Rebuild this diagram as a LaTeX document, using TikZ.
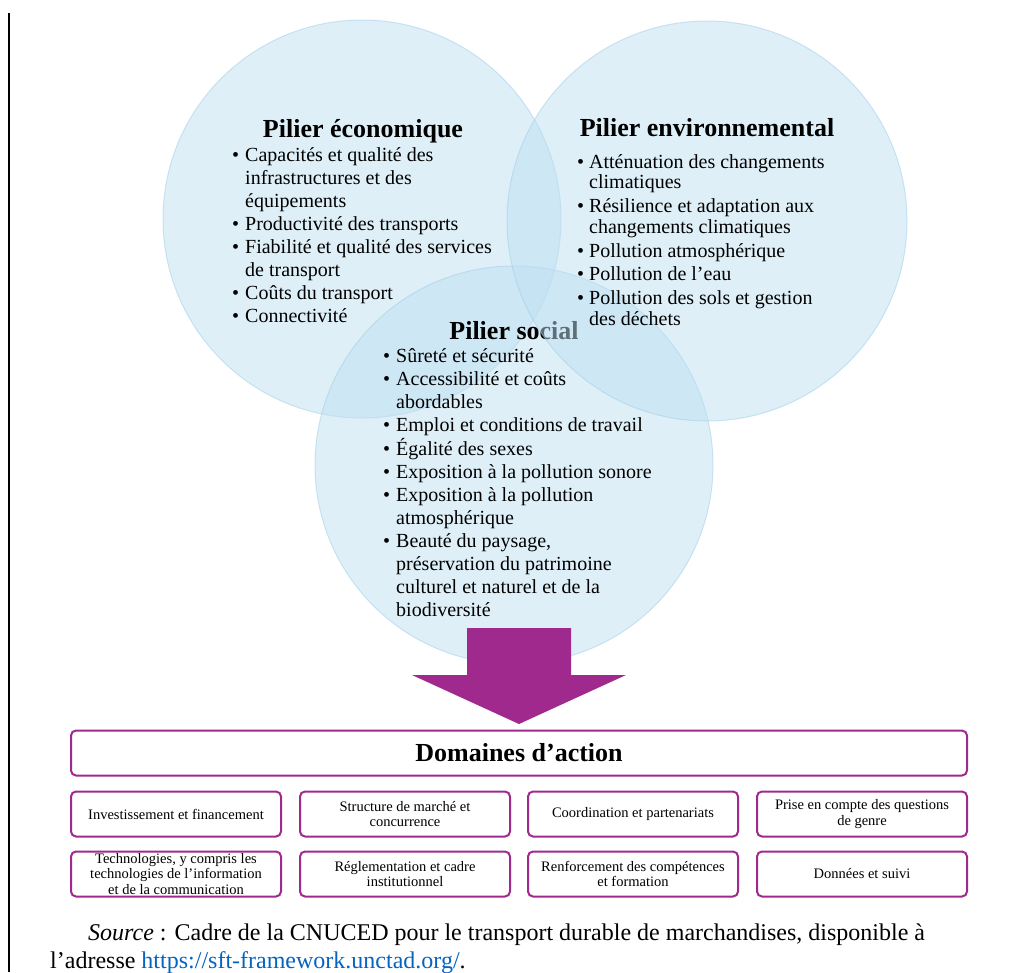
\documentclass[tikz,border=0pt]{standalone}
\usepackage{fontspec}
\setmainfont{Liberation Serif}
\usetikzlibrary{positioning}

\definecolor{pillarblue}{RGB}{189,223,241}
\definecolor{pillaredge}{RGB}{160,205,232}
\definecolor{actpurple}{RGB}{160,41,142}
\definecolor{linkblue}{RGB}{5,99,193}

\tikzset{
  pillar/.style={circle, minimum size=398pt, inner sep=0pt, fill=pillarblue,
    fill opacity=0.5, draw=pillaredge, draw opacity=0.5, line width=1pt},
  pillartitle/.style={font=\fontsize{26}{30}\selectfont\bfseries, anchor=base, inner sep=0pt},
  bullets/.style={font=\fontsize{20}{23}\selectfont, anchor=base west, inner sep=0pt, align=left},
  actbox/.style={draw=actpurple, line width=2pt, rounded corners=5pt, minimum width=210pt,
    minimum height=45pt, align=center, inner sep=1pt, font=\fontsize{14.5}{15.5}\selectfont},
}

\begin{document}
\begin{tikzpicture}[x=1pt,y=-1pt]
  \useasboundingbox (0,0) rectangle (1014,972);
  \draw [line width=2pt] (9,13) -- (9,972);

  % pilier economique
  \node [pillar] (eco) at (362,219) {};
  \node [pillartitle] (ecotitle) at (363,137) {Pilier économique};
  \node [bullets] (ecolist) at (232,161) {\begin{tabular}[t]{@{}p{13pt}@{}l@{}}
    \textbullet & Capacités et qualité des\\
     & infrastructures et des\\
     & équipements\\
    \textbullet & Productivité des transports\\
    \textbullet & Fiabilité et qualité des services\\
     & de transport\\
    \textbullet & Coûts du transport\\
    \textbullet & Connectivité
  \end{tabular}};

  % pilier social
  \node [pillar] (soc) at (514,465) {};
  \node [pillartitle] (soctitle) at (514,339) {Pilier social};
  \node [bullets] (soclist) at (383,362) {\begin{tabular}[t]{@{}p{13pt}@{}l@{}}
    \textbullet & Sûreté et sécurité\\
    \textbullet & Accessibilité et coûts\\
     & abordables\\
    \textbullet & Emploi et conditions de travail\\
    \textbullet & Égalité des sexes\\
    \textbullet & Exposition à la pollution sonore\\
    \textbullet & Exposition à la pollution\\
     & atmosphérique\\
    \textbullet & Beauté du paysage,\\
     & préservation du patrimoine\\
     & culturel et naturel et de la\\
     & biodiversité
  \end{tabular}};

  % pilier environnemental
  \node [pillar, minimum size=400pt] (env) at (707,221) {};
  \node [pillartitle] (envtitle) at (707,136) {Pilier environnemental};
  \node [bullets, font=\fontsize{20}{20.5}\selectfont] (envlist) at (577,168) {\begin{tabular}[t]{@{}p{12pt}@{}l@{}}
    \textbullet & Atténuation des changements\\
     & climatiques\\[3.5pt]
    \textbullet & Résilience et adaptation aux\\
     & changements climatiques\\[3.5pt]
    \textbullet & Pollution atmosphérique\\[3pt]
    \textbullet & Pollution de l’eau\\[3.5pt]
    \textbullet & Pollution des sols et gestion\\
     & des déchets
  \end{tabular}};

  % fleche
  \fill [actpurple] (467,628) -- (571,628) -- (571,675) -- (626,675)
    -- (519,724) -- (412,675) -- (467,675) -- cycle;

  % domaines d'action
  \node [actbox, minimum width=896pt, font=\fontsize{26}{30}\selectfont\bfseries] (dom) at (519,753) {Domaines d’action};

  \node [actbox] (invest) at (176,814) {Investissement et financement};
  \node [actbox] (marche) at (405,814) {Structure de marché et\\concurrence};
  \node [actbox] (coord) at (633,814) {Coordination et partenariats};
  \node [actbox] (genre) at (862,814) {Prise en compte des questions\\de genre};
  \node [actbox] (techno) at (176,874) {Technologies, y compris les\\technologies de l’information\\et de la communication};
  \node [actbox] (regl) at (405,874) {Réglementation et cadre\\institutionnel};
  \node [actbox] (forma) at (633,874) {Renforcement des compétences\\et formation};
  \node [actbox] (donnees) at (862,874) {Données et suivi};

  % source
  \node [anchor=base west, inner sep=0pt, font=\fontsize{24}{28}\selectfont] (src) at (88,940)
    {\textit{Source} : Cadre de la CNUCED pour le transport durable de marchandises, disponible à};
  \node [anchor=base west, inner sep=0pt, font=\fontsize{24}{28}\selectfont] (srcurl) at (50,968)
    {l’adresse \textcolor{linkblue}{https://sft-framework.unctad.org/}.};
\end{tikzpicture}
\end{document}
